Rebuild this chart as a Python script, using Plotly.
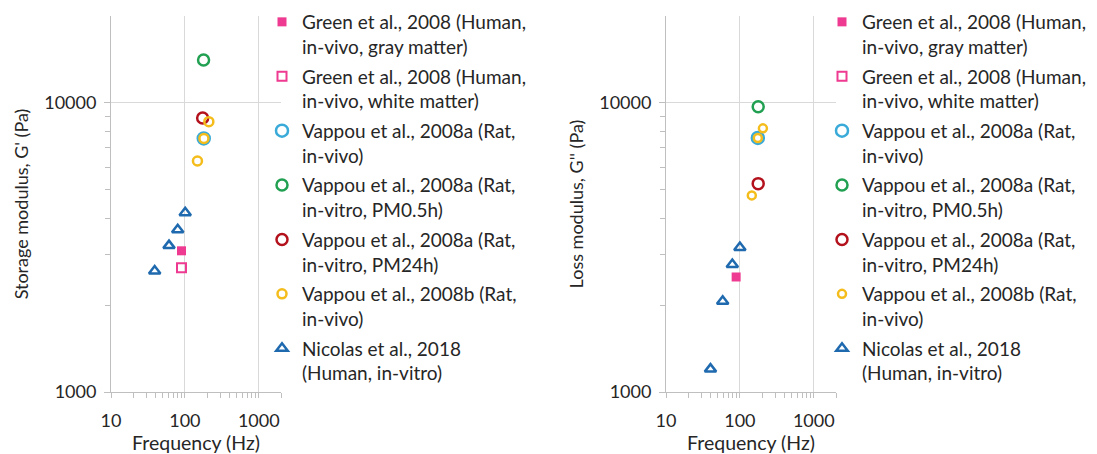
import plotly.graph_objects as go

# ---- data ----
series_names = [
    "Green et al., 2008 (Human,<br>in-vivo, gray matter)",
    "Green et al., 2008 (Human,<br>in-vivo, white matter)",
    "Vappou et al., 2008a (Rat,<br>in-vivo)",
    "Vappou et al., 2008a (Rat,<br>in-vitro, PM0.5h)",
    "Vappou et al., 2008a (Rat,<br>in-vitro, PM24h)",
    "Vappou et al., 2008b (Rat,<br>in-vivo)",
    "Nicolas et al., 2018<br>(Human, in-vitro)",
]

# storage modulus G' (left panel)
storage_freq = [
    [90],
    [90],
    [180],
    [179],
    [174],
    [211, 181, 148],
    [101, 80, 61, 39],
]
storage_val = [
    [3080],
    [2690],
    [7540],
    [14080],
    [8870],
    [8620, 7540, 6300],
    [4170, 3640, 3210, 2620],
]

# loss modulus G'' (right panel); white-matter series has no point here
loss_freq = [
    [89],
    [None],
    [175],
    [177],
    [177],
    [205, 175, 145],
    [100, 79, 58.5, 40],
]
loss_val = [
    [2500],
    [None],
    [7570],
    [9710],
    [5260],
    [8170, 7570, 4790],
    [3160, 2760, 2060, 1200],
]

x_tick_vals = [10, 100, 1000]
x_tick_text = ["10", "100", "1000"]
x_minor_vals = [20, 30, 40, 50, 60, 70, 80, 90, 200, 300, 400, 500, 600, 700, 800, 900, 2000]
y_tick_vals = [1000, 10000]
y_tick_text = ["1000", "10000"]
y_minor_vals = [2000, 3000, 4000, 5000, 6000, 7000, 8000, 9000]

# ---- styles ----
symbols = ["square", "square-open", "circle-open", "circle-open", "circle-open", "circle-open", "triangle-up-open"]
colors = ["#EE3A90", "#EE3A90", "#3AAAD8", "#21A052", "#B3121D", "#F4BD1C", "#1F6AAF"]
sizes_left = [9, 9, 12, 11, 11, 9, 10]
sizes_right = [9, 9, 12, 11, 11, 8, 10]
widths = [0, 2, 2.5, 2.5, 2.5, 2.5, 2.5]

FONT = "Lato"
TXT = "#262626"

fig = go.Figure()
for i, name in enumerate(series_names):
    for (xs, ys, xa, ya, leg, sz) in [
        (storage_freq[i], storage_val[i], "x", "y", "legend", sizes_left),
        (loss_freq[i], loss_val[i], "x2", "y2", "legend2", sizes_right),
    ]:
        fig.add_trace(go.Scatter(
            x=xs, y=ys, xaxis=xa, yaxis=ya, mode="markers", name=name,
            legend=leg, legendgroup=f"{leg}_{i}",
            marker=dict(symbol=symbols[i], color=colors[i], size=sz[i],
                        line=dict(color=colors[i], width=widths[i])),
            showlegend=True, cliponaxis=False,
        ))

W, H = 1097, 454
ydom = [(H - 392) / H, (H - 16) / H]

def xaxis(dom, anchor):
    return dict(
        type="log", domain=dom, anchor=anchor, range=[1, 3.301],
        tickvals=x_tick_vals, ticktext=x_tick_text,
        ticks="outside", ticklen=5, tickcolor="#bfbfbf",
        showgrid=True, gridcolor="#d9d9d9", gridwidth=1,
        showline=True, linecolor="#bfbfbf", linewidth=1,
        zeroline=False, automargin=False, ticklabelstandoff=7,
        minor=dict(tickvals=x_minor_vals, ticks="outside", ticklen=5,
                   tickcolor="#bfbfbf", showgrid=False),
        tickfont=dict(family=FONT, size=18, color=TXT),
        title=dict(text="Frequency (Hz)", font=dict(family=FONT, size=19.5, color=TXT), standoff=2),
    )

def yaxis(dom, anchor, title):
    return dict(
        type="log", domain=dom, anchor=anchor, range=[3, 4.301],
        tickvals=y_tick_vals, ticktext=y_tick_text,
        ticks="outside", ticklen=6, tickcolor="#bfbfbf",
        showgrid=True, gridcolor="#d9d9d9", gridwidth=1,
        showline=True, linecolor="#bfbfbf", linewidth=1,
        zeroline=False, automargin=False, ticklabelstandoff=4,
        minor=dict(tickvals=y_minor_vals, ticks="outside", ticklen=5,
                   tickcolor="#bfbfbf", showgrid=False),
        tickfont=dict(family=FONT, size=18, color=TXT),
        title=dict(text=title, font=dict(family=FONT, size=18, color=TXT), standoff=10),
    )

legend_common = dict(
    xanchor="left", yanchor="top", valign="top",
    font=dict(family=FONT, size=19, color=TXT),
    bgcolor="rgba(0,0,0,0)", tracegroupgap=2,
)

fig.update_layout(
    width=W, height=H, autosize=False,
    margin=dict(l=0, r=0, t=0, b=0, autoexpand=False),
    paper_bgcolor="white", plot_bgcolor="white",
    xaxis=xaxis([111 / W, 281 / W], "y"),
    yaxis=yaxis(ydom, "x", "Storage modulus, G' (Pa)"),
    xaxis2=xaxis([666 / W, 836 / W], "y2"),
    yaxis2=yaxis(ydom, "x2", "Loss modulus, G'' (Pa)"),
    legend=dict(x=262 / W, y=1 - 3 / H, **legend_common),
    legend2=dict(x=822 / W, y=1 - 3 / H, **legend_common),
    showlegend=True,
)

fig.write_html("out.html", config={"displayModeBar": False},
               post_script="document.body.style.margin='0';")
